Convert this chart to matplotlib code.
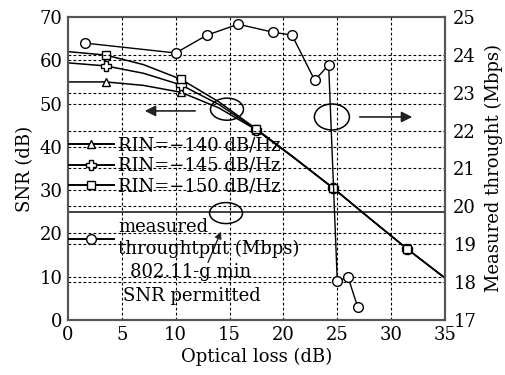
import matplotlib
matplotlib.use("Agg")
import matplotlib.pyplot as plt
from matplotlib.patches import Ellipse
from matplotlib.lines import Line2D

plt.rcParams['font.family'] = ['DejaVu Serif']

# ---- data ----
loss_curve = [0, 3.5, 7, 10.5, 14, 17.5, 21, 24.6, 28, 31.5, 35]
snr_140 = [55.0, 55.0, 54.2, 52.6, 49.0, 43.9, 37.4, 30.5, 23.5, 16.4, 9.7]
snr_145 = [59.4, 58.7, 57.0, 54.3, 49.8, 44.0, 37.5, 30.5, 23.5, 16.4, 9.7]
snr_150 = [62.0, 61.2, 59.0, 55.6, 50.4, 44.1, 37.5, 30.5, 23.5, 16.4, 9.7]
marker_idx = [1, 3, 5, 7, 9]

thr_loss = [1.6, 10.0, 12.9, 15.8, 19.0, 20.8, 22.9, 24.2, 25.0, 26.0, 26.9]
thr_mbps = [24.31, 24.05, 24.52, 24.81, 24.6, 24.52, 23.33, 23.73, 18.03, 18.13, 17.34]

snr_min = 25
x_ticks = [0, 5, 10, 15, 20, 25, 30, 35]
snr_ticks = [0, 10, 20, 30, 40, 50, 60, 70]
thr_ticks = [17, 18, 19, 20, 21, 22, 23, 24, 25]
rin_labels = ['RIN=\u2212140 dB/Hz', 'RIN=\u2212145 dB/Hz', 'RIN=\u2212150 dB/Hz']
thr_label = 'measured\nthroughtput (Mbps)'

fig = plt.figure(figsize=(5.06, 3.75), dpi=100)
ax = fig.add_axes([0.1344, 0.1467, 0.745, 0.808])
ax2 = ax.twinx()

fs = 13
grid_kw = dict(color='black', lw=0.8, ls=(0, (2.5, 2)), zorder=0)

ax.set_xlim(0, 35)
ax.set_ylim(0, 70)
ax2.set_ylim(17, 25)

for x in x_ticks[1:-1]:
    ax.axvline(x, **grid_kw)
for y in snr_ticks[1:-1]:
    ax.axhline(y, **grid_kw)
for y in thr_ticks[1:-1]:
    ax2.axhline(y, **grid_kw)

ax.axhline(snr_min, color='#333333', lw=1.3, zorder=1)

styles = [dict(marker='^', ms=6), dict(marker='P', ms=7), dict(marker='s', ms=6)]
handles = []
for vals, st in zip([snr_140, snr_145, snr_150], styles):
    ax.plot(loss_curve, vals, color='black', lw=1.1, mfc='white', mec='black',
            mew=1.0, markevery=marker_idx, zorder=3, **st)
    handles.append(Line2D([], [], color='black', lw=1.4, mfc='white', mec='black',
                          mew=1.0, **st))

ax2.plot(thr_loss, thr_mbps, color='black', lw=1.0, marker='o', ms=7,
         mfc='white', mec='black', mew=1.0, zorder=3)
h_thr = Line2D([], [], color='black', lw=1.4, marker='o', ms=7,
               mfc='white', mec='black', mew=1.0)

ax.set_xticks(x_ticks)
ax.set_yticks(snr_ticks)
ax2.set_yticks(thr_ticks)
ax.tick_params(length=0, labelsize=fs, pad=4)
ax2.tick_params(length=0, labelsize=fs, pad=6)

for a in (ax, ax2):
    for s in a.spines.values():
        s.set_color('#555555')
        s.set_linewidth(1.5)

ax.set_xlabel('Optical loss (dB)', fontsize=fs, labelpad=3)
ax.set_ylabel('SNR (dB)', fontsize=fs, labelpad=4)
ax2.set_ylabel('Measured throught (Mbps)', fontsize=fs, labelpad=6)

# ellipses and arrows
for (cx, cy, w, h) in [(14.76, 48.7, 3.06, 5.1), (24.5, 46.9, 3.25, 6.0), (14.67, 24.7, 3.06, 4.85)]:
    ax.add_patch(Ellipse((cx, cy), w, h, fill=False, ec='black', lw=1.1, zorder=4))

akw = dict(arrowstyle='-|>', color='#222222', lw=1.2, mutation_scale=16)
ax.annotate('', xy=(6.87, 48.3), xytext=(12.07, 48.3), arrowprops=akw, zorder=4)
ax.annotate('', xy=(32.22, 46.9), xytext=(26.83, 46.9), arrowprops=akw, zorder=4)
ax.annotate('', xy=(14.3, 21.0), xytext=(12.9, 12.7),
            arrowprops=dict(arrowstyle='-|>', color='#222222', lw=1.0, mutation_scale=10), zorder=4)

ax.text(11.4, 11.1, '802.11-g min', fontsize=fs, ha='center', va='center', zorder=5)
ax.text(11.5, 5.5, 'SNR permitted', fontsize=fs, ha='center', va='center', zorder=5)

leg_kw = dict(loc='upper left', frameon=False, fontsize=fs, handlelength=2.5,
              handletextpad=0.25, labelspacing=0.12, borderpad=0, borderaxespad=0)
leg1 = ax2.legend(handles, rin_labels, bbox_to_anchor=(0.002, 0.605), **leg_kw)
leg1.set_zorder(5)
ax2.add_artist(leg1)
leg2 = ax2.legend([h_thr], [thr_label], bbox_to_anchor=(0.002, 0.335), **leg_kw)
leg2.set_zorder(5)

fig.savefig('out.png', dpi=100)
